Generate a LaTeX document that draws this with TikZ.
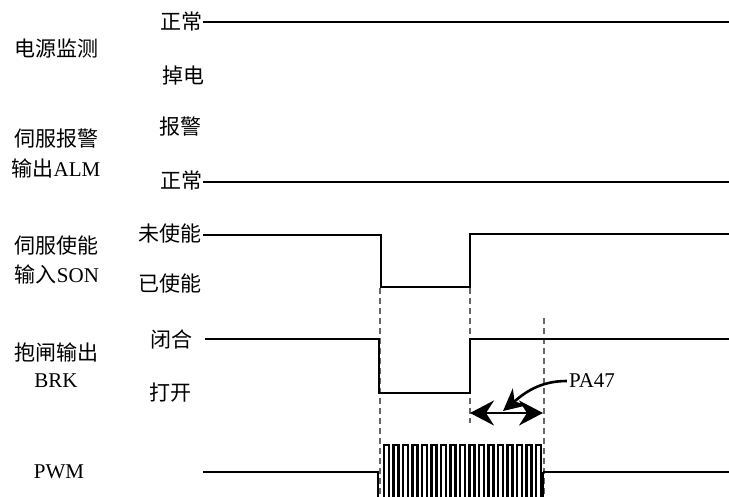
\documentclass[tikz,border=0pt]{standalone}
\usepackage{fontspec}
\setmainfont{Liberation Serif}
\newfontfamily\cjk{Noto Sans CJK SC}
\usetikzlibrary{arrows.meta, positioning}

\tikzset{
  lbl/.style={inner sep=0pt, font=\fontsize{21}{24}\selectfont},
  sig/.style={line width=2.9pt, line join=miter},
  guide/.style={line width=1.2pt, black!60, dash pattern=on 6pt off 4pt},
  bigtip/.style={{Stealth[length=24pt,width=25pt,inset=8pt]}-{Stealth[length=24pt,width=25pt,inset=8pt]}}
}

\begin{document}
\begin{tikzpicture}[x=1pt, y=-1pt]
  \useasboundingbox (0,0) rectangle (729,497);
  \clip (0,0) rectangle (729,497);

  % 左侧信号名
  \node[lbl] (pwr)  at (57,49)  {\cjk 电源监测};
  \node[lbl] (alm1) at (57,139) {\cjk 伺服报警};
  \node[lbl] (alm2) at (56,168) {{\cjk 输出}ALM};
  \node[lbl] (son1) at (57,246) {\cjk 伺服使能};
  \node[lbl] (son2) at (57,274) {{\cjk 输入}SON};
  \node[lbl] (brk1) at (57,352) {\cjk 抱闸输出};
  \node[lbl] (brk2) at (56,381) {BRK};
  \node[lbl] (pwm)  at (59,472) {PWM};

  % 电平名
  \node[lbl] (pwrH) at (181,22)  {\cjk 正常};
  \node[lbl] (pwrL) at (183,76)  {\cjk 掉电};
  \node[lbl] (almA) at (180,127) {\cjk 报警};
  \node[lbl] (almN) at (181,181) {\cjk 正常};
  \node[lbl] (sonH) at (170,234) {\cjk 未使能};
  \node[lbl] (sonL) at (170,284) {\cjk 已使能};
  \node[lbl] (brkH) at (171,339) {\cjk 闭合};
  \node[lbl] (brkL) at (170,393) {\cjk 打开};

  % 虚线
  \draw[guide] (380,288) -- (380,497);
  \draw[guide] (470,288) -- (470,423);
  \draw[guide] (544,318) -- (544,497);

  % 波形
  \draw[sig] (203,22) -- (729,22);
  \draw[sig] (203,182) -- (729,182);
  \draw[sig] (203,235) -- (381,235) -- (381,287) -- (470,287) -- (470,234) -- (729,234);
  \draw[sig] (205,339) -- (379,339) -- (379,393) -- (470,393) -- (470,339) -- (729,339);
  \draw[line width=2.4pt, line join=miter] (203,472) -- (378,472) -- (378,505)
    \foreach \i in {0,...,16} {
      -- (384+9.5*\i,505) -- (384+9.5*\i,445) -- (389+9.5*\i,445) -- (389+9.5*\i,505)
    } -- (543,505) -- (543,472);
  \draw[sig] (543,472) -- (729,472);

  % PA47
  \coordinate (tl) at (470,413);
  \coordinate (tr) at (543,413);
  \draw[line width=2.4pt, bigtip] (tl) -- (tr);
  \node[lbl] (pa) at (592,381) {PA47};
  \coordinate (hit) at (503,411);
  \draw[line width=2.6pt, -{Stealth[length=22pt,width=22pt,inset=7pt]}]
    ([xshift=-2pt]pa.west) to[out=180, in=40] (hit);
\end{tikzpicture}
\end{document}
